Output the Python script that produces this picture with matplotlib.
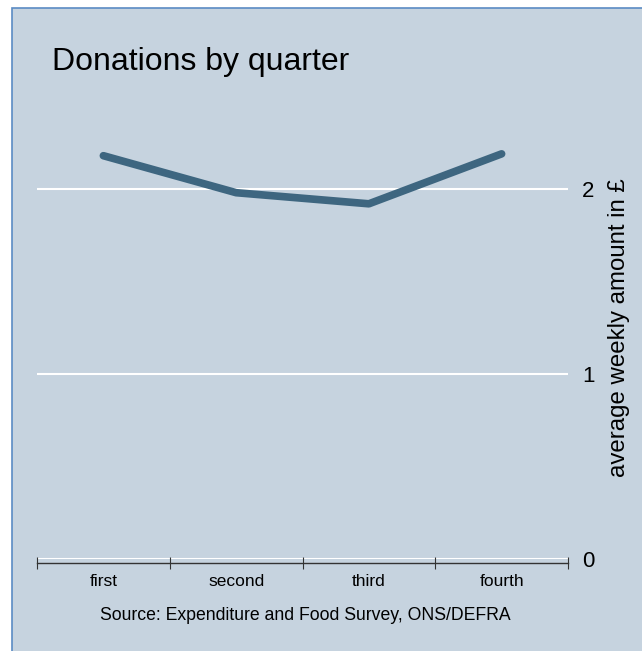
import matplotlib
matplotlib.use("Agg")
import matplotlib.pyplot as plt
from matplotlib.patches import Rectangle

# data
quarters = ["first", "second", "third", "fourth"]
donations = [2.18, 1.98, 1.92, 2.19]
y_ticks = [0, 1, 2]

bg = "#c6d3df"
line_col = "#3e6680"
border_col = "#5b8bc4"

plt.rcParams['font.family'] = ['Liberation Sans', 'DejaVu Sans']

fig = plt.figure(figsize=(6.42, 6.51), dpi=100)
fig.patch.set_facecolor("white")
fig.patches.append(Rectangle((12 / 642, -0.01), 1.0, 1 - 8 / 651 + 0.01,
                             transform=fig.transFigure, facecolor=bg,
                             edgecolor=border_col, linewidth=1.2, zorder=-5))

ax = fig.add_axes([37 / 642, 92 / 651, 531 / 642, 462.5 / 651])
ax.set_facecolor("none")

x = [i + 0.5 for i in range(len(quarters))]
ax.plot(x, donations, color=line_col, linewidth=5.5, solid_capstyle="round", zorder=3)

ax.set_xlim(0, 4)
ax.set_ylim(0, 2.5)
ax.set_xticks(range(5))
ax.set_xticklabels([])
ax.set_xticks(x, minor=True)
ax.set_xticklabels(quarters, minor=True)
ax.tick_params(axis="x", which="minor", length=0, pad=8, labelsize=12.5)
ax.tick_params(axis="x", which="major", direction="inout", length=9, width=0.8, color="#333333")

ax.yaxis.tick_right()
ax.set_yticks(y_ticks)
ax.set_yticklabels([str(t) for t in y_ticks])
ax.tick_params(axis="y", length=0, pad=10, labelsize=16)
ax.yaxis.set_label_position("right")
ax.set_ylabel("average weekly amount in £", fontsize=17.3, labelpad=10)

for t in y_ticks:
    ax.axhline(t, color="white", linewidth=1.5, zorder=1)

for s in ["top", "left", "right"]:
    ax.spines[s].set_visible(False)
ax.spines["bottom"].set_position(("outward", 3))
ax.spines["bottom"].set_color("#333333")
ax.spines["bottom"].set_linewidth(1.0)

fig.text(52 / 642, 1 - 62 / 651, "Donations by quarter", fontsize=23, va="center", ha="left")
fig.text(305 / 642, 1 - 615 / 651, "Source: Expenditure and Food Survey, ONS/DEFRA",
         fontsize=12.7, va="center", ha="center")

fig.savefig("out.png", dpi=100, facecolor=fig.get_facecolor())
